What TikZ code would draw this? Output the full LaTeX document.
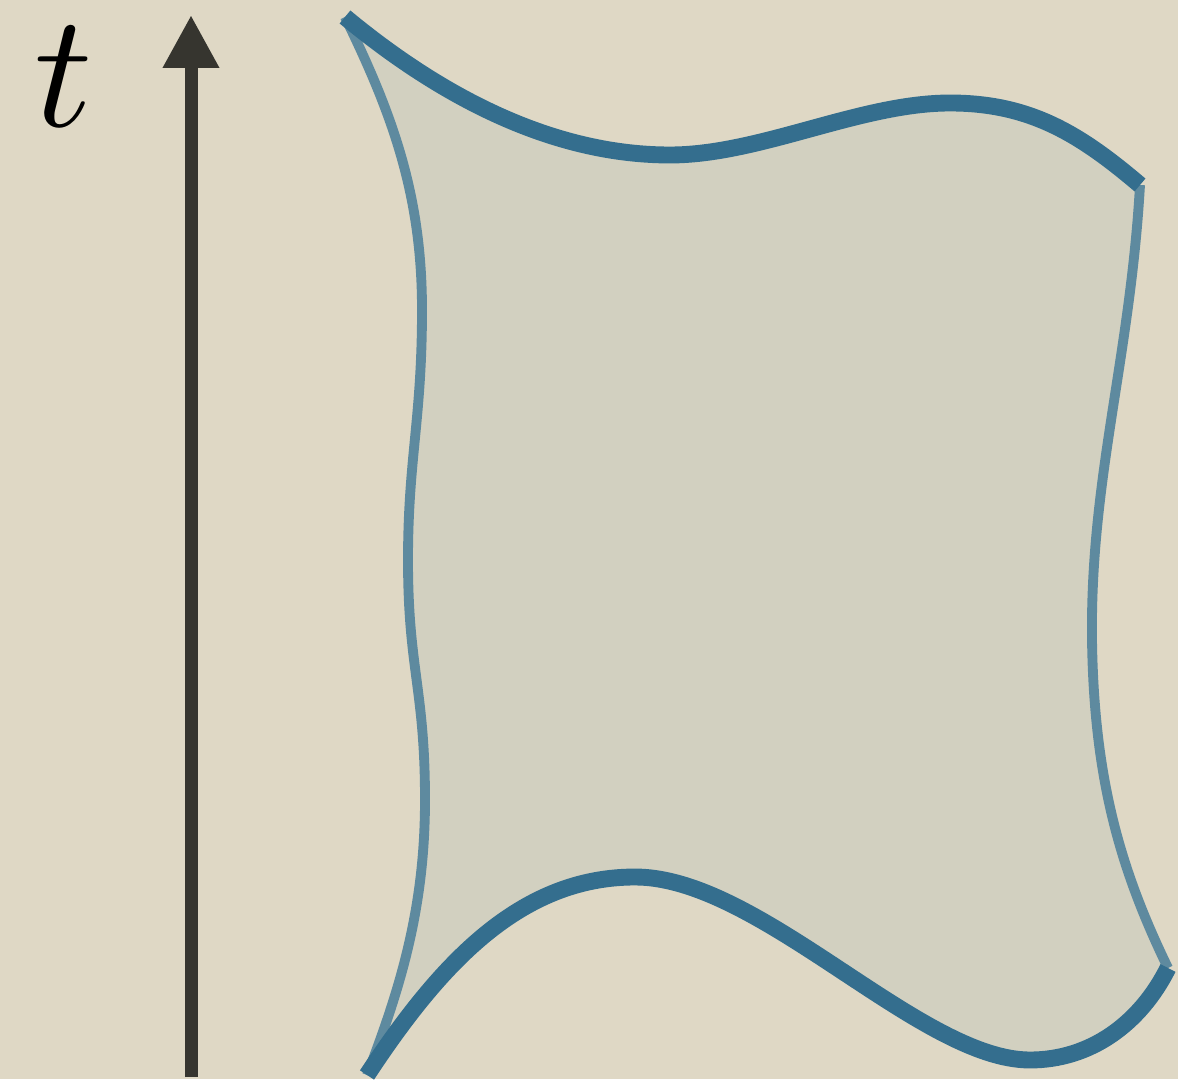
\documentclass[tikz,border=0pt]{standalone}
\usepackage{tikz}
\usetikzlibrary{arrows.meta}
\definecolor{paper}{HTML}{DFD8C5}
\definecolor{sheet}{HTML}{D2D0C0}
\definecolor{edgeblue}{HTML}{346E8E}
\definecolor{sideblue}{HTML}{5E8A9F}
\definecolor{axisgray}{HTML}{36352F}
\begin{document}
\begin{tikzpicture}[
    timeaxis/.style={axisgray, line width=3.7pt, -{Triangle[length=0.53cm, width=0.53cm]}},
    boundary/.style={edgeblue, line width=4.8pt},
    sideline/.style={sideblue, line width=2.8pt}]
  % background and page size
  \fill[paper] (0,0) rectangle (11.78,10.79);
  \useasboundingbox (0,0) rectangle (11.78,10.79);
  % corners of the sheet
  \coordinate (tl) at (3.45,10.62);
  \coordinate (tr) at (11.40,8.94);
  \coordinate (br) at (11.68,1.11);
  \coordinate (bl) at (3.67,0.04);
  % shaded sheet
  \fill[sheet] (tl) .. controls (4.5,9.75) and (5.6,9.24) .. (6.7,9.24)
    .. controls (7.6,9.24) and (8.6,9.76) .. (9.5,9.76)
    .. controls (10.3,9.76) and (10.8,9.45) .. (tr)
    .. controls (11.3,7.2) and (10.9,6.0) .. (10.92,4.39)
    .. controls (10.94,3.0) and (11.2,2.1) .. (br)
    .. controls (11.4,0.55) and (10.9,0.19) .. (10.3,0.19)
    .. controls (9.2,0.19) and (7.6,2.02) .. (6.35,2.02)
    .. controls (5.2,2.02) and (4.4,1.15) .. (bl)
    .. controls (4.0,0.9) and (4.25,1.7) .. (4.25,2.79)
    .. controls (4.25,3.9) and (4.08,4.1) .. (4.08,5.19)
    .. controls (4.08,6.2) and (4.22,6.6) .. (4.22,7.69)
    .. controls (4.22,8.8) and (3.95,9.6) .. (tl) -- cycle;
  % sides
  \draw[sideline] (tr) .. controls (11.3,7.2) and (10.9,6.0) .. (10.92,4.39)
    .. controls (10.94,3.0) and (11.2,2.1) .. (br);
  \draw[sideline] (bl) .. controls (4.0,0.9) and (4.25,1.7) .. (4.25,2.79)
    .. controls (4.25,3.9) and (4.08,4.1) .. (4.08,5.19)
    .. controls (4.08,6.2) and (4.22,6.6) .. (4.22,7.69)
    .. controls (4.22,8.8) and (3.95,9.6) .. (tl);
  % initial and final slices
  \draw[boundary] (tl) .. controls (4.5,9.75) and (5.6,9.24) .. (6.7,9.24)
    .. controls (7.6,9.24) and (8.6,9.76) .. (9.5,9.76)
    .. controls (10.3,9.76) and (10.8,9.45) .. (tr);
  \draw[boundary] (br) .. controls (11.4,0.55) and (10.9,0.19) .. (10.3,0.19)
    .. controls (9.2,0.19) and (7.6,2.02) .. (6.35,2.02)
    .. controls (5.2,2.02) and (4.4,1.15) .. (bl);
  % time axis
  \coordinate (tail) at (1.91,0.02);
  \coordinate (tip) at (1.91,10.64);
  \draw[timeaxis] (tail) -- (tip);
  \node[scale=4.6] (tlabel) at (0.64,10.02) {$t$};
\end{tikzpicture}
\end{document}
